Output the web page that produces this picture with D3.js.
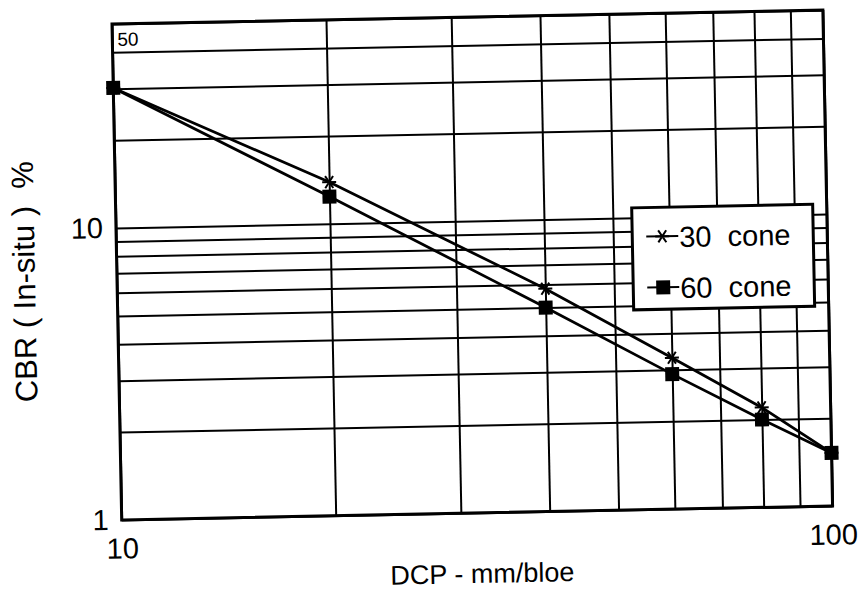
<!DOCTYPE html>
<html>
<head>
<meta charset="utf-8">
<script src="https://cdn.jsdelivr.net/npm/d3@7"></script>
<style>
  html, body { margin: 0; padding: 0; background: #fff; }
  svg { display: block; }
  text { font-family: "Liberation Sans", Arial, sans-serif; fill: #000; white-space: pre; }
</style>
</head>
<body>
<div id="chart"></div>
<script>
// ---- data ----
const dcp = [10, 20, 40, 60, 80, 100];
const cone30 = [30.2, 13.9, 5.8, 3.3, 2.2, 1.52];
const cone60 = [30.2, 12.4, 5.0, 2.9, 2.0, 1.52];
const seriesNames = ["30  cone", "60  cone"];
const xGridValues = [10, 20, 30, 40, 50, 60, 70, 80, 90, 100];
const yGridValues = [1, 2, 3, 4, 5, 6, 7, 8, 9, 10, 20, 30, 40, 50];
const xTickLabels = [10, 100];
const yTickLabels = [1, 10];
const yInsideLabel = [50];
const xTitle = "DCP - mm/bloe";
const yTitle = "CBR ( In-situ )  %";

// ---- layout ----
const W = 863, H = 608;
const pw = 711, ph = 496;

const svg = d3.select("#chart").append("svg").attr("width", W).attr("height", H);
const g = svg.append("g").attr("transform", "translate(112,24) rotate(-1.12)");

const x = d3.scaleLog().domain([10, 100]).range([0, pw]);
const y = d3.scaleLog().domain([1, 50]).range([ph, 0]);

// grid lines via axes
const xGrid = g.append("g").attr("transform", `translate(0,${ph})`)
  .call(d3.axisBottom(x).tickValues(xGridValues).tickSize(-ph).tickFormat(""));
xGrid.select(".domain").remove();
xGrid.selectAll(".tick line").attr("stroke", "#000").attr("stroke-width", 2);

const yGrid = g.append("g")
  .call(d3.axisLeft(y).tickValues(yGridValues).tickSize(-pw).tickFormat(""));
yGrid.select(".domain").remove();
yGrid.selectAll(".tick line").attr("stroke", "#000").attr("stroke-width", 2);

// frame
g.append("rect").attr("x", 0).attr("y", 0).attr("width", pw).attr("height", ph)
  .attr("fill", "none").attr("stroke", "#000").attr("stroke-width", 3);

// tick labels
const xLab = g.append("g").attr("transform", `translate(0,${ph})`)
  .call(d3.axisBottom(x).tickValues(xTickLabels).tickSize(0).tickPadding(18).tickFormat(d3.format("d")));
xLab.select(".domain").remove();
xLab.selectAll("text").attr("font-size", 29).attr("font-family", "Liberation Sans, Arial, sans-serif");

const yLab = g.append("g")
  .call(d3.axisLeft(y).tickValues(yTickLabels).tickSize(0).tickPadding(13).tickFormat(d3.format("d")));
yLab.select(".domain").remove();
yLab.selectAll("text").attr("font-size", 29).attr("font-family", "Liberation Sans, Arial, sans-serif");

g.selectAll(".inlabel").data(yInsideLabel).enter().append("text")
  .attr("class", "inlabel")
  .attr("x", 5).attr("y", d => y(d) + 22)
  .attr("font-size", 19).text(d => d);

// axis titles
g.append("text").attr("x", pw / 2 + 4).attr("y", 566)
  .attr("text-anchor", "middle").attr("font-size", 27).text(xTitle);
g.append("text").attr("transform", `translate(-82,${256}) rotate(-90)`)
  .attr("text-anchor", "middle").attr("font-size", 31).text(yTitle);

// series lines
const line = d3.line().x(d => x(d[0])).y(d => y(d[1]));
const s30 = dcp.map((d, i) => [d, cone30[i]]);
const s60 = dcp.map((d, i) => [d, cone60[i]]);

g.append("path").datum(s30).attr("d", line).attr("fill", "none")
  .attr("stroke", "#000").attr("stroke-width", 2.8);
g.append("path").datum(s60).attr("d", line).attr("fill", "none")
  .attr("stroke", "#000").attr("stroke-width", 2.8);

// markers
const starPath = "M-7,0L7,0M-4,-6L4,6M4,-6L-4,6";
function drawStar(sel) {
  sel.append("path").attr("d", starPath).attr("stroke", "#000").attr("stroke-width", 2).attr("fill", "none");
}
function drawSquare(sel) {
  sel.append("rect").attr("x", -7).attr("y", -7).attr("width", 14).attr("height", 14).attr("fill", "#000");
}
g.selectAll(".m60").data(s60).enter().append("g").attr("class", "m60")
  .attr("transform", d => `translate(${x(d[0])},${y(d[1])})`).call(drawSquare);
g.selectAll(".m30").data(s30).enter().append("g").attr("class", "m30")
  .attr("transform", d => `translate(${x(d[0])},${y(d[1])})`).call(drawStar);

// legend
const lg = g.append("g").attr("transform", "translate(516,194)");
lg.append("rect").attr("width", 181).attr("height", 102)
  .attr("fill", "#fff").attr("stroke", "#000").attr("stroke-width", 3);
const entries = lg.selectAll(".entry").data(seriesNames).enter().append("g")
  .attr("class", "entry").attr("transform", (d, i) => `translate(0,${29 + i * 51})`);
entries.append("line").attr("x1", 14).attr("x2", 46).attr("y1", 0).attr("y2", 0)
  .attr("stroke", "#000").attr("stroke-width", 2);
entries.each(function (d, i) {
  const e = d3.select(this).append("g").attr("transform", "translate(30,0)");
  if (i === 0) drawStar(e); else drawSquare(e);
});
entries.append("text").attr("x", 47).attr("y", 11)
  .attr("font-size", 29).text(d => d);
</script>
</body>
</html>
